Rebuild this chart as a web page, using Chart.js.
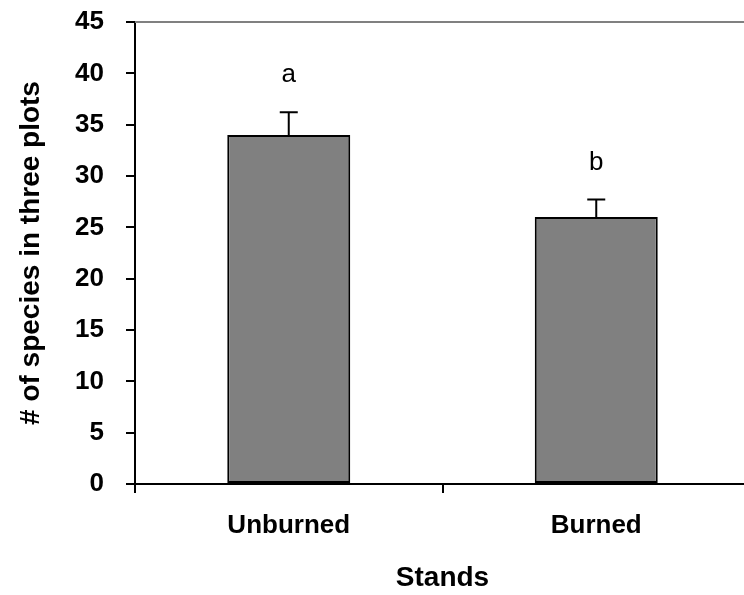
<!DOCTYPE html>
<html>
<head>
<meta charset="utf-8">
<script src="https://cdn.jsdelivr.net/npm/chart.js@4"></script>
<style>
    html, body { margin: 0; padding: 0; background: #fff; overflow: hidden; }
    #wrap { width: 760px; height: 595px; }
</style>
</head>
<body>
<div id="wrap"><canvas id="speciesChart"></canvas></div>
<script>
const stands = ['Unburned', 'Burned'];
const speciesMean = [34, 26];
const speciesErr = [2.2, 1.7];
const groupLetters = ['a', 'b'];
const yTicks = [0, 5, 10, 15, 20, 25, 30, 35, 40, 45];

const tickFont = { family: '"Liberation Sans", Arial, sans-serif', size: 26, weight: 'bold' };
const titleFont = { family: '"Liberation Sans", Arial, sans-serif', size: 28, weight: 'bold' };

// error bars, significance letters and the grey top edge of the plot
const extras = {
    id: 'extras',
    afterDatasetsDraw(chart) {
        const ctx = chart.ctx;
        const y = chart.scales.y;
        const area = chart.chartArea;
        const bars = chart.getDatasetMeta(0).data;

        ctx.save();
        ctx.strokeStyle = '#808080';
        ctx.lineWidth = 2;
        ctx.beginPath();
        ctx.moveTo(area.left, area.top);
        ctx.lineTo(area.right, area.top);
        ctx.stroke();

        ctx.strokeStyle = '#000';
        ctx.lineWidth = 2;
        ctx.fillStyle = '#000';
        ctx.font = '26px "Liberation Sans", Arial, sans-serif';
        ctx.textAlign = 'center';
        ctx.textBaseline = 'alphabetic';
        bars.forEach((bar, i) => {
            const top = y.getPixelForValue(speciesMean[i] + speciesErr[i]);
            ctx.beginPath();
            ctx.moveTo(bar.x, bar.y);
            ctx.lineTo(bar.x, top);
            ctx.moveTo(bar.x - 9, top);
            ctx.lineTo(bar.x + 9, top);
            ctx.stroke();
            ctx.fillText(groupLetters[i], bar.x, top - 30);
        });
        ctx.restore();
    }
};

new Chart(document.getElementById('speciesChart'), {
    type: 'bar',
    data: {
        labels: stands,
        datasets: [{
            data: speciesMean,
            backgroundColor: '#808080',
            borderColor: '#000',
            borderWidth: 2,
            borderSkipped: false,
            barPercentage: 0.4,
            categoryPercentage: 1
        }]
    },
    options: {
        responsive: true,
        maintainAspectRatio: false,
        animation: false,
        layout: { padding: { top: 22, right: 10, left: 0, bottom: 0 } },
        plugins: { legend: { display: false }, tooltip: { enabled: false } },
        scales: {
            x: {
                grid: { offset: true, drawOnChartArea: false, tickLength: 9, color: '#000', lineWidth: 2 },
                border: { color: '#000', width: 2 },
                ticks: { color: '#000', font: tickFont, padding: 17 },
                title: { display: true, text: 'Stands', color: '#000', font: titleFont, padding: { top: 0, bottom: 0 } },
                afterFit(scale) { scale.height = 111; }
            },
            y: {
                min: 0,
                max: 45,
                afterBuildTicks(scale) { scale.ticks = yTicks.map(v => ({ value: v })); },
                grid: { drawOnChartArea: false, tickLength: 9, color: '#000', lineWidth: 2 },
                border: { color: '#000', width: 2 },
                ticks: { color: '#000', font: tickFont, padding: 22 },
                title: { display: true, text: '# of species in three plots', color: '#000', font: titleFont, padding: { top: 14, bottom: 0 } },
                afterFit(scale) {
                    scale.width = 135;
                    // the label gap should not push the plot down
                    scale.paddingTop = 0;
                    scale.paddingBottom = 0;
                }
            }
        }
    },
    plugins: [extras]
});
</script>
</body>
</html>
